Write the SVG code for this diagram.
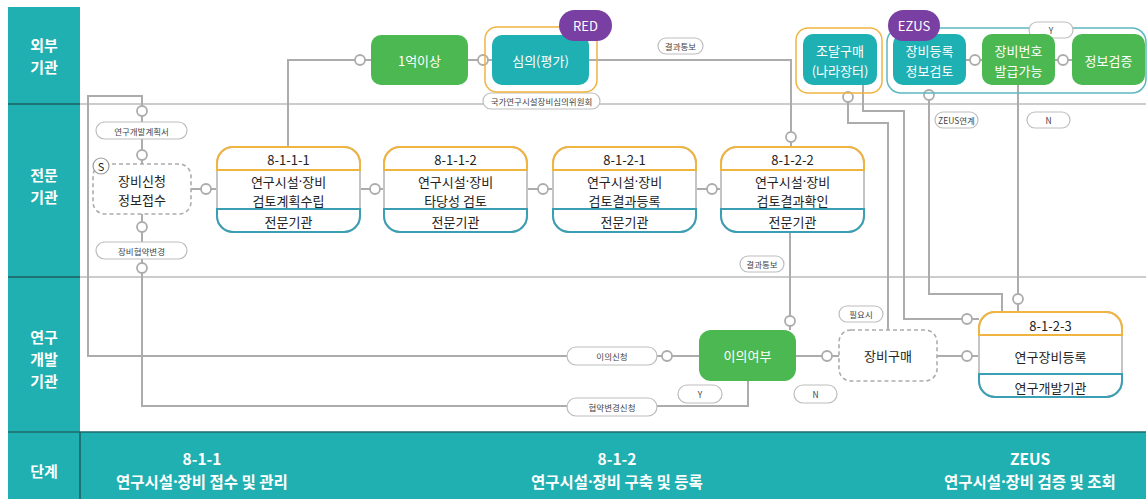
<svg xmlns="http://www.w3.org/2000/svg" xmlns:xlink="http://www.w3.org/1999/xlink" width="1148" height="499" viewBox="0 0 1148 499">
<style>
text{font-family:'Noto Sans CJK KR','Noto Sans',sans-serif;text-anchor:middle;dominant-baseline:central}
.lane{fill:#fff;font-size:15px;font-weight:bold}
.band{fill:#fff;font-size:15.5px;font-weight:bold}
.nt{fill:#222;font-size:13px}
.wt{fill:#fff;font-size:13px}
.pl{fill:#444;font-size:8.5px}
.md{font-family:'Noto Sans','DejaVu Sans',sans-serif}
.pill{fill:#fff;stroke:#bdbdbd;stroke-width:1.2}
.con{fill:none;stroke:#acacac;stroke-width:2}
.dot{fill:#fff;stroke:#acacac;stroke-width:1.8}
.teal{fill:#1fb0b3}
.green{fill:#4cb851}
.purple{fill:#7a3fa2}
.dash{fill:#fff;stroke:#acacac;stroke-width:1.6;stroke-dasharray:4 3}
.sep{stroke:#9a9a9a;stroke-width:1.2}
</style>
<defs>
<g id="pbox">
<rect x="0" y="0" width="143" height="85" rx="16" fill="#fff" stroke="#c4c4c4" stroke-width="2"/>
<path d="M0,23 V16 A16,16 0 0 1 16,0 H127 A16,16 0 0 1 143,16 V23 Z" fill="none" stroke="#f0b440" stroke-width="2"/>
<path d="M0,62 V69 A16,16 0 0 0 16,85 H127 A16,16 0 0 0 143,69 V62 Z" fill="none" stroke="#3a9fb4" stroke-width="2"/>
</g>
</defs>
<rect width="1148" height="499" fill="#fff"/>
<g id="lanes">
<rect x="8" y="7" width="72" height="492" fill="#20b0b1"/>
<rect x="80" y="432" width="1066" height="67" fill="#20b0b1"/>
<line x1="80" y1="104" x2="1146" y2="104" class="sep"/>
<line x1="80" y1="277" x2="1146" y2="277" class="sep"/>
<line x1="8" y1="104" x2="80" y2="104" stroke="#1b5e60" stroke-width="1.5"/>
<line x1="8" y1="277" x2="80" y2="277" stroke="#1b5e60" stroke-width="1.5"/>
<line x1="8" y1="432" x2="1146" y2="432" stroke="#1b6a6c" stroke-width="1.5"/>
<line x1="80" y1="432" x2="80" y2="499" stroke="#1b5e60" stroke-width="1.5"/>
<text class="lane" x="44" y="44"><tspan x="44" y="44">외부</tspan><tspan x="44" y="66">기관</tspan></text>
<text class="lane" x="44" y="174"><tspan x="44" y="174">전문</tspan><tspan x="44" y="196">기관</tspan></text>
<text class="lane" x="44" y="336"><tspan x="44" y="336">연구</tspan><tspan x="44" y="358">개발</tspan><tspan x="44" y="380">기관</tspan></text>
<text class="lane" x="44" y="470">단계</text>
<text class="band" x="202" y="458"><tspan x="202" y="458">8-1-1</tspan><tspan x="202" y="481">연구시설<tspan class="md">·</tspan>장비 접수 및 관리</tspan></text>
<text class="band" x="617" y="458"><tspan x="617" y="458">8-1-2</tspan><tspan x="617" y="481">연구시설<tspan class="md">·</tspan>장비 구축 및 등록</tspan></text>
<text class="band" x="1030" y="458"><tspan x="1030" y="458">ZEUS</tspan><tspan x="1030" y="481">연구시설<tspan class="md">·</tspan>장비 검증 및 조회</tspan></text>
</g>
<g id="connectors">
<path class="con" d="M288,147 V60 H371"/>
<path class="con" d="M468,60 H492"/>
<path class="con" d="M589,60 H791 V147"/>
<path class="con" d="M191,189 H217"/>
<path class="con" d="M360,189 H384"/>
<path class="con" d="M527,189 H553"/>
<path class="con" d="M697,189 H721"/>
<path class="con" d="M790,232 V330"/>
<path class="con" d="M699,356 H88 V96 H142 V164"/>
<path class="con" d="M748,381 V406 H142 V214"/>
<path class="con" d="M796,356 H839"/>
<path class="con" d="M937,356 H979"/>
<path class="con" d="M848,97 V123 H888 V330"/>
<path class="con" d="M863,85 V111 H904 V319 H979"/>
<path class="con" d="M929,95 V294 H1002 V312"/>
<path class="con" d="M1018,85 V312"/>
<path class="con" d="M966,60 H982"/>
<path class="con" d="M1055,60 H1072"/>
<circle class="dot" cx="360" cy="60" r="5"/>
<circle class="dot" cx="483" cy="60" r="5"/>
<circle class="dot" cx="791" cy="137" r="5"/>
<circle class="dot" cx="206" cy="189" r="5"/>
<circle class="dot" cx="375" cy="189" r="5"/>
<circle class="dot" cx="543" cy="189" r="5"/>
<circle class="dot" cx="712" cy="189" r="5"/>
<circle class="dot" cx="790" cy="321" r="5"/>
<circle class="dot" cx="667" cy="356" r="5"/>
<circle class="dot" cx="142" cy="111" r="5"/>
<circle class="dot" cx="142" cy="155" r="5"/>
<circle class="dot" cx="142" cy="227" r="5"/>
<circle class="dot" cx="142" cy="268" r="5"/>
<circle class="dot" cx="827" cy="356" r="5"/>
<circle class="dot" cx="967" cy="356" r="5"/>
<circle class="dot" cx="967" cy="319" r="5"/>
<circle class="dot" cx="848" cy="97" r="5"/>
<circle class="dot" cx="929" cy="95" r="5"/>
<circle class="dot" cx="1018" cy="299" r="5"/>
<circle class="dot" cx="975" cy="60" r="5"/>
<circle class="dot" cx="1063" cy="60" r="5"/>
<rect class="pill" x="658" y="38" width="45" height="16" rx="8"/><text class="pl" x="680.5" y="46">결과통보</text>
<rect class="pill" x="483" y="93" width="117" height="16" rx="8"/><text class="pl" x="541.5" y="101">국가연구시설장비심의위원회</text>
<rect class="pill" x="96" y="122" width="91" height="17" rx="8.5"/><text class="pl" x="141.5" y="130.5">연구개발계획서</text>
<rect class="pill" x="96" y="242" width="91" height="17" rx="8.5"/><text class="pl" x="141.5" y="250.5">장비협약변경</text>
<rect class="pill" x="740" y="256" width="44" height="16" rx="8"/><text class="pl" x="762" y="264">결과통보</text>
<rect class="pill" x="567" y="347" width="90" height="18" rx="9"/><text class="pl" x="612" y="356">이의신청</text>
<rect class="pill" x="567" y="398" width="90" height="18" rx="9"/><text class="pl" x="612" y="407">협약변경신청</text>
<rect class="pill" x="678" y="385" width="44" height="18" rx="9"/><text class="pl" x="700" y="394">Y</text>
<rect class="pill" x="794" y="385" width="43" height="18" rx="9"/><text class="pl" x="815.5" y="394">N</text>
<rect class="pill" x="839" y="306" width="44" height="16" rx="8"/><text class="pl" x="861" y="314">필요시</text>
<rect class="pill" x="935" y="112" width="43" height="16" rx="8"/><text class="pl" x="956.5" y="120">ZEUS연계</text>
<rect class="pill" x="1027" y="112" width="43" height="16" rx="8"/><text class="pl" x="1048.5" y="120">N</text>
</g>
<g id="n-1eok">
<rect class="green" x="371" y="35" width="97" height="50" rx="10"/>
<text class="wt" x="419.5" y="60">1억이상</text>
</g>
<g id="n-simui">
<rect x="485" y="27" width="112" height="65" rx="12" fill="none" stroke="#f0b440" stroke-width="1.5"/>
<rect class="teal" x="492" y="35" width="97" height="50" rx="10"/>
<text class="wt" x="540.5" y="60">심의(평가)</text>
<rect class="purple" x="559" y="10" width="53" height="31" rx="15.5"/>
<text class="wt" x="585.5" y="25.5">RED</text>
</g>
<g id="n-jodal">
<rect x="796" y="28" width="86" height="65" rx="12" fill="none" stroke="#f0b440" stroke-width="1.5"/>
<rect class="teal" x="803" y="34" width="74" height="51" rx="10"/>
<text class="wt" x="840" y="50"><tspan x="840" y="50">조달구매</tspan><tspan x="840" y="70">(나라장터)</tspan></text>
</g>
<g id="n-ezus">
<rect x="887" y="28" width="259" height="65" rx="14" fill="none" stroke="#5bb8c0" stroke-width="1.5"/>
<rect class="pill" x="1029" y="22" width="44" height="16" rx="8"/><text class="pl" x="1051" y="30">Y</text>
<rect class="teal" x="893" y="34" width="73" height="51" rx="10"/>
<text class="wt" x="929.5" y="50"><tspan x="929.5" y="50">장비등록</tspan><tspan x="929.5" y="70">정보검토</tspan></text>
<rect class="green" x="982" y="34" width="73" height="51" rx="10"/>
<text class="wt" x="1018.5" y="50"><tspan x="1018.5" y="50">장비번호</tspan><tspan x="1018.5" y="70">발급가능</tspan></text>
<rect class="green" x="1072" y="34" width="73" height="51" rx="10"/>
<text class="wt" x="1108.5" y="60">정보검증</text>
<rect class="purple" x="888" y="10" width="52" height="31" rx="15.5"/>
<text class="wt" x="914" y="25.5">EZUS</text>
</g>
<g id="n-sincheong">
<rect class="dash" x="93" y="164" width="98" height="50" rx="12"/>
<text class="nt" x="142" y="179.5"><tspan x="142" y="179.5">장비신청</tspan><tspan x="142" y="199">정보접수</tspan></text>
<circle cx="101" cy="166" r="8" fill="#fff" stroke="#9a9a9a" stroke-width="1.2"/>
<text x="101" y="166" style="font-size:11px;fill:#222">S</text>
</g>
<g id="n-8111">
<use xlink:href="#pbox" x="217" y="147"/>
<text class="nt" x="288.5" y="159.5">8-1-1-1</text>
<text class="nt" x="288.5" y="180.5"><tspan x="288.5" y="180.5">연구시설<tspan class="md">·</tspan>장비</tspan><tspan x="288.5" y="199.5">검토계획수립</tspan></text>
<text class="nt" x="288.5" y="221">전문기관</text>
</g>
<g id="n-8112">
<use xlink:href="#pbox" x="384" y="147"/>
<text class="nt" x="455.5" y="159.5">8-1-1-2</text>
<text class="nt" x="455.5" y="180.5"><tspan x="455.5" y="180.5">연구시설<tspan class="md">·</tspan>장비</tspan><tspan x="455.5" y="199.5">타당성 검토</tspan></text>
<text class="nt" x="455.5" y="221">전문기관</text>
</g>
<g id="n-8121">
<use xlink:href="#pbox" x="553" y="147"/>
<text class="nt" x="624.5" y="159.5">8-1-2-1</text>
<text class="nt" x="624.5" y="180.5"><tspan x="624.5" y="180.5">연구시설<tspan class="md">·</tspan>장비</tspan><tspan x="624.5" y="199.5">검토결과등록</tspan></text>
<text class="nt" x="624.5" y="221">전문기관</text>
</g>
<g id="n-8122">
<use xlink:href="#pbox" x="721" y="147"/>
<text class="nt" x="792.5" y="159.5">8-1-2-2</text>
<text class="nt" x="792.5" y="180.5"><tspan x="792.5" y="180.5">연구시설<tspan class="md">·</tspan>장비</tspan><tspan x="792.5" y="199.5">검토결과확인</tspan></text>
<text class="nt" x="792.5" y="221">전문기관</text>
</g>
<g id="n-iui">
<rect class="green" x="699" y="330" width="97" height="51" rx="12"/>
<text class="wt" x="747.5" y="355.5">이의여부</text>
</g>
<g id="n-gume">
<rect class="dash" x="839" y="330" width="98" height="51" rx="12"/>
<text class="nt" x="888" y="355.5">장비구매</text>
</g>
<g id="n-8123">
<use xlink:href="#pbox" x="979" y="312"/>
<text class="nt" x="1050.5" y="325">8-1-2-3</text>
<text class="nt" x="1050.5" y="356">연구장비등록</text>
<text class="nt" x="1050.5" y="387">연구개발기관</text>
</g>
</svg>
